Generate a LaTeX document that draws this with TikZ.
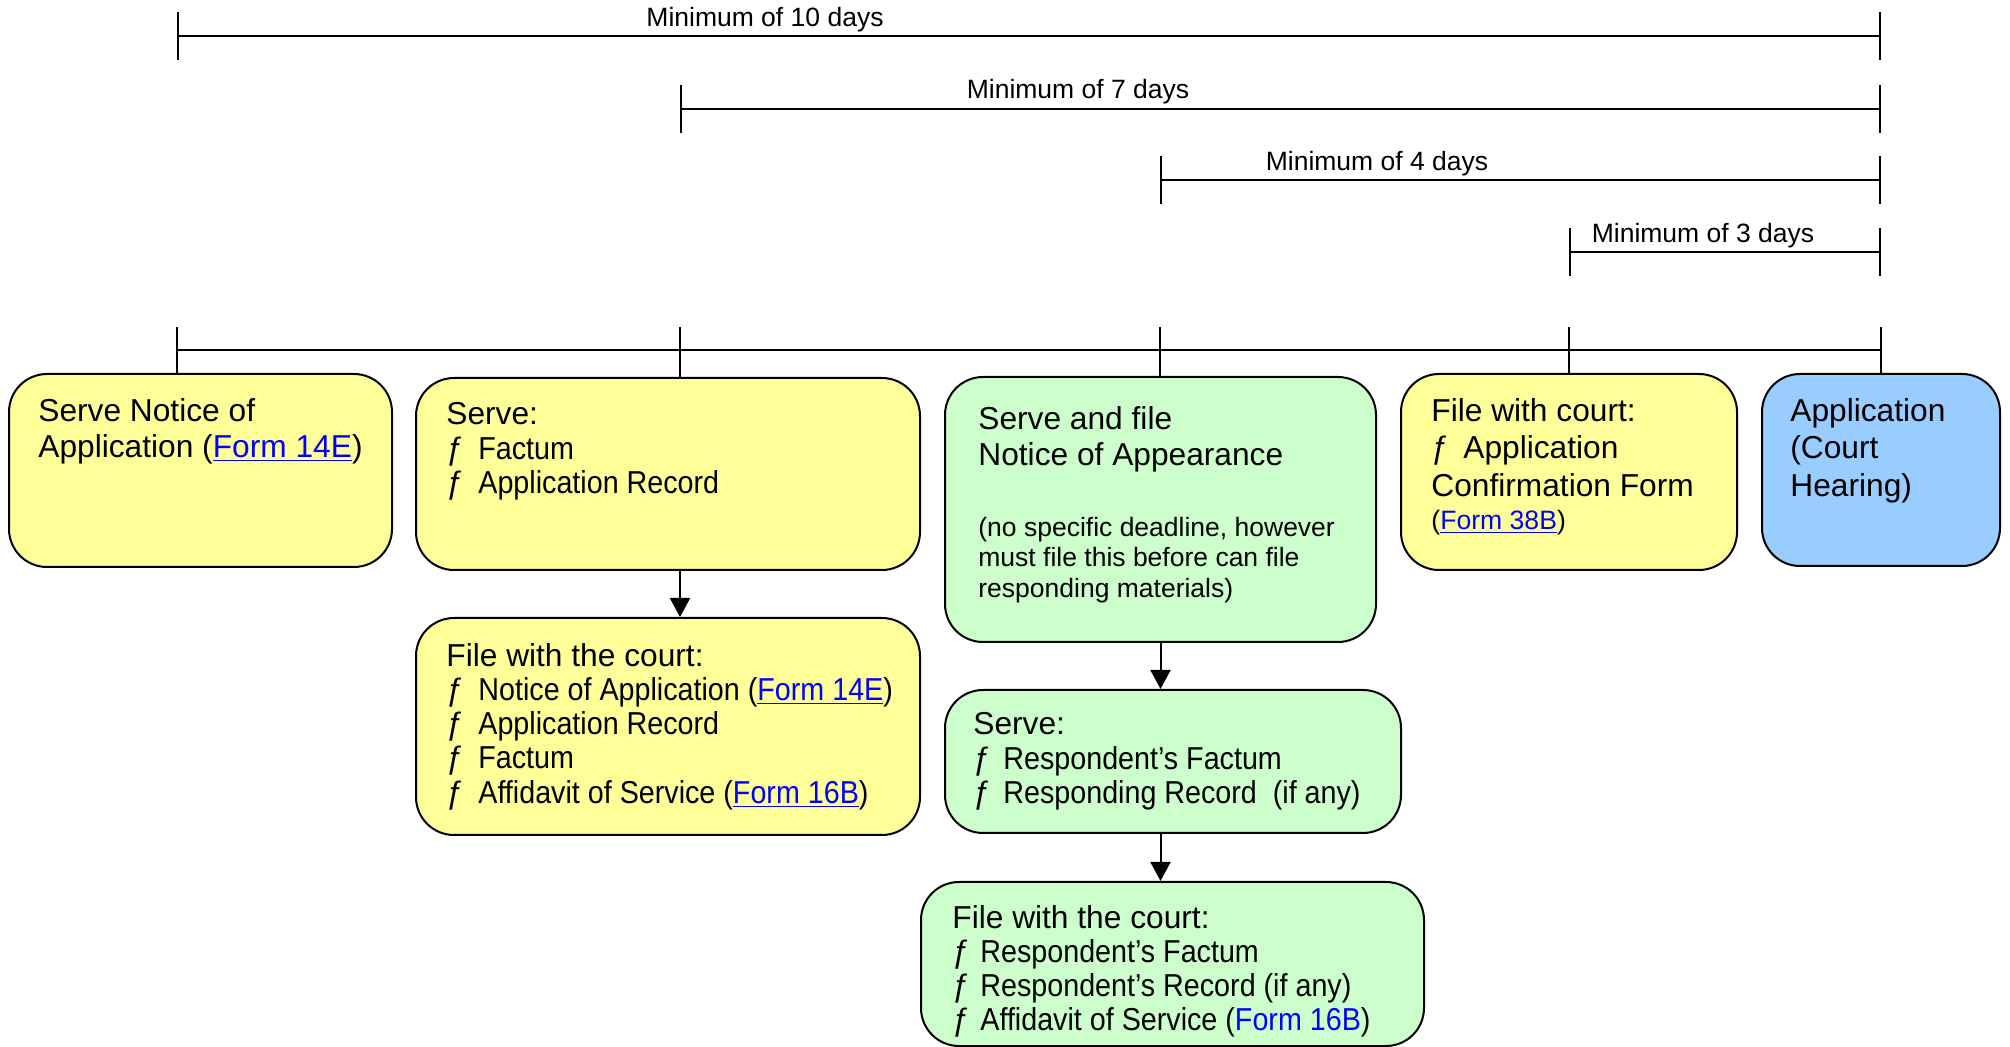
\documentclass[tikz,border=0pt]{standalone}
\usepackage{fontspec}
\setmainfont{Liberation Sans}
\newfontfamily\itemfont[FakeStretch=0.905]{Liberation Sans}
\usetikzlibrary{arrows.meta}

\definecolor{paleyellow}{HTML}{FFFF99}
\definecolor{palegreen}{HTML}{CCFFCC}
\definecolor{paleblue}{HTML}{99CCFF}
\definecolor{linkblue}{HTML}{0000FF}

\newcommand{\mainsize}{\fontsize{15.85pt}{17.3pt}\selectfont}
\newcommand{\notesize}{\fontsize{13.25pt}{15.2pt}\selectfont}
\newcommand{\fitem}[1][16pt]{\makebox[#1][l]{ƒ}}
\newcommand{\ditem}[2][16pt]{\fitem[#1]{\itemfont #2}}
\newcommand{\formref}[1]{\textcolor{linkblue}{\underline{#1}}}

\tikzset{
  stage/.style={draw, line width=1pt, rounded corners=19pt, inner sep=0pt},
  servestage/.style={stage, fill=paleyellow},
  respstage/.style={stage, fill=palegreen},
  hearstage/.style={stage, fill=paleblue},
  boxtext/.style={anchor=north west, inner sep=0pt, align=left, font=\mainsize},
  notetext/.style={boxtext, font=\notesize},
  spanlbl/.style={inner sep=0pt, font=\notesize},
  span/.style={line width=0.8pt, {Bar[width=24pt]}-{Bar[width=24pt]}},
  tline/.style={line width=0.8pt},
  flow/.style={line width=1pt, -{Triangle[length=9.5pt,width=10pt]}},
}

\begin{document}
\begin{tikzpicture}[x=0.5pt, y=-0.5pt]
  \useasboundingbox (0,0) rectangle (2010,1047);

  % minimum periods before the hearing
  \draw[span] (177,36) -- (1881,36);
  \node[spanlbl] (min10) at (765,19.5) {Minimum of 10 days};
  \draw[span] (680,109) -- (1881,109);
  \node[spanlbl] (min7) at (1078,91.5) {Minimum of 7 days};
  \draw[span] (1160,180) -- (1881,180);
  \node[spanlbl] (min4) at (1377,163.5) {Minimum of 4 days};
  \draw[span] (1569,252) -- (1881,252);
  \node[spanlbl] (min3) at (1703,235.5) {Minimum of 3 days};

  % stages
  \node[servestage, minimum width=191.5pt, minimum height=96.5pt] (notice) at (200.5,470.5) {};
  \node[servestage, minimum width=252pt, minimum height=96pt] (serve) at (668,474) {};
  \node[servestage, minimum width=252pt, minimum height=108.5pt] (filecourt) at (668,726.5) {};
  \node[respstage, minimum width=215.5pt, minimum height=132.5pt] (appear) at (1160.5,509.5) {};
  \node[servestage, minimum width=168pt, minimum height=98pt] (confirm) at (1569,472) {};
  \node[hearstage, minimum width=119pt, minimum height=96pt] (hearing) at (1881,470) {};
  \node[respstage, minimum width=228pt, minimum height=71.5pt] (respserve) at (1173,761.5) {};
  \node[respstage, minimum width=251.5pt, minimum height=82pt] (respfile) at (1172.5,964) {};

  \node[boxtext, font=\fontsize{15.85pt}{18pt}\selectfont] (notice-txt) at (38,398)
    {Serve Notice of\\Application (\formref{Form 14E})};
  \node[boxtext] (serve-txt) at (446,402)
    {Serve:\\\ditem{Factum}\\\ditem{Application Record}};
  \node[boxtext, font=\fontsize{15.85pt}{17.1pt}\selectfont] (filecourt-txt) at (446,643)
    {File with the court:\\
     \ditem{Notice of Application (\formref{Form 14E})}\\
     \ditem{Application Record}\\
     \ditem{Factum}\\
     \ditem{Affidavit of Service (\formref{Form 16B})}};
  \node[boxtext, font=\fontsize{15.85pt}{18pt}\selectfont] (appear-txt) at (978,406)
    {Serve and file\\Notice of Appearance};
  \node[notetext] (appear-note) at (978,517)
    {(no specific deadline, however\\must file this before can file\\responding materials)};
  \node[boxtext, font=\fontsize{15.85pt}{18.7pt}\selectfont] (confirm-txt) at (1431,398)
    {File with court:\\\fitem Application\\Confirmation Form\\[-2pt]
     {\fontsize{13.3pt}{15pt}\selectfont(\formref{Form 38B})}};
  \node[boxtext, font=\fontsize{15.85pt}{18.7pt}\selectfont] (hearing-txt) at (1790,398)
    {Application\\(Court\\Hearing)};
  \node[boxtext] (respserve-txt) at (973,712)
    {Serve:\\\ditem[15pt]{Respondent’s Factum}\\\ditem[15pt]{Responding Record\ \ (if any)}};
  \node[boxtext, font=\fontsize{15.85pt}{17.1pt}\selectfont] (respfile-txt) at (952,905)
    {File with the court:\\
     \ditem[14pt]{Respondent’s Factum}\\
     \ditem[14pt]{Respondent’s Record (if any)}\\
     \ditem[14pt]{Affidavit of Service (\textcolor{linkblue}{Form 16B})}};

  % timeline
  \coordinate (d10) at (177,350);
  \coordinate (d7) at (680,350);
  \coordinate (d4) at (1160,350);
  \coordinate (d3) at (1569,350);
  \coordinate (d0) at (1881,350);
  \draw[tline] (d10) -- (d0);
  \draw[tline] (d10) ++(0,-23) -- (notice.north -| d10);
  \draw[tline] (d7) ++(0,-23) -- (serve.north -| d7);
  \draw[tline] (d4) ++(0,-23) -- (appear.north -| d4);
  \draw[tline] (d3) ++(0,-23) -- (confirm.north -| d3);
  \draw[tline] (d0) ++(0,-23) -- (hearing.north -| d0);

  \draw[flow] (serve.south -| d7) -- (filecourt.north -| d7);
  \draw[flow] (appear.south) -- (respserve.north -| appear.south);
  \draw[flow] (respserve.south -| appear.south) -- (respfile.north -| appear.south);
\end{tikzpicture}
\end{document}
